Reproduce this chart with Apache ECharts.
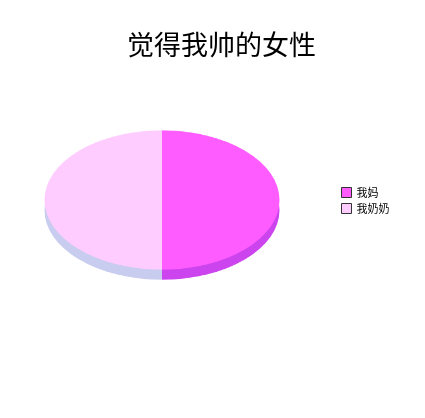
<!DOCTYPE html>
<html><head><meta charset="utf-8">
<script src="https://cdn.jsdelivr.net/npm/echarts@6/dist/echarts.min.js"></script>
<style>
html,body{margin:0;padding:0;background:#fff;}
#wrap{position:relative;width:425px;height:418px;overflow:hidden;}
#pie{position:absolute;left:0;top:50px;width:425px;height:300px;transform:scaleY(0.593);transform-origin:50% 150px;}
#txt{position:absolute;left:0;top:0;width:425px;height:418px;}
</style></head>
<body><div id="wrap"><div id="pie"></div><div id="txt"></div></div>
<script>
const titleText = '觉得我帅的女性';
const categories = ['我妈', '我奶奶'];
const values = [50, 50];
const topColors = ['#FF5CFF', '#FFCCFF'];
const sideColors = ['#CC44EE', '#C8CCEE'];

const pie = echarts.init(document.getElementById('pie'), null, {renderer: 'canvas'});
const mk = (colors) => categories.map((c, i) => ({name: c, value: values[i], itemStyle: {color: colors[i]}}));
pie.setOption({
  animation: false,
  series: [
    {type: 'pie', radius: 117.5, center: [162, 167], startAngle: 90, clockwise: true,
     label: {show: false}, labelLine: {show: false}, silent: true, z: 1,
     itemStyle: {borderWidth: 0}, data: mk(sideColors)},
    {type: 'pie', radius: 117.5, center: [162, 150], startAngle: 90, clockwise: true,
     label: {show: false}, labelLine: {show: false}, silent: true, z: 2,
     itemStyle: {borderWidth: 0}, data: mk(topColors)}
  ]
});

const txt = echarts.init(document.getElementById('txt'), null, {renderer: 'canvas'});
txt.setOption({
  animation: false,
  title: {text: titleText, left: 127, top: 31, padding: 0,
    textStyle: {fontFamily: 'Noto Sans CJK SC', fontWeight: 'normal', fontSize: 27, color: '#000'}},
  legend: {orient: 'vertical', left: 341, top: 187, padding: 0, itemWidth: 10, itemHeight: 10, itemGap: 5,
    icon: 'rect', data: categories,
    textStyle: {fontFamily: 'Noto Sans CJK SC', fontSize: 11, color: '#000'},
    itemStyle: {borderColor: '#333', borderWidth: 1}},
  series: [{type: 'pie', radius: 0, center: [-100, -100], label: {show: false}, labelLine: {show: false},
    data: categories.map((c, i) => ({name: c, value: values[i], itemStyle: {color: topColors[i]}}))}]
});
</script></body></html>
